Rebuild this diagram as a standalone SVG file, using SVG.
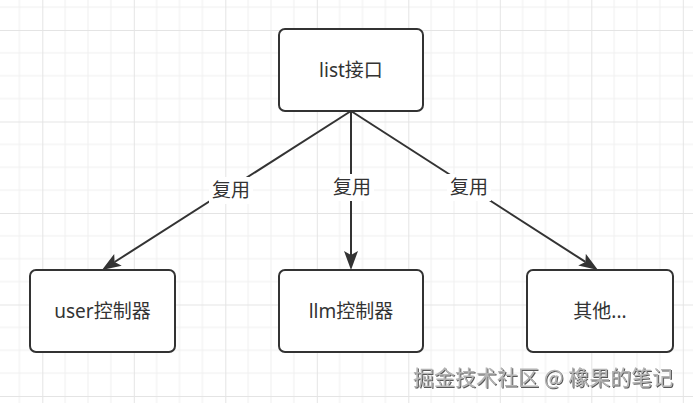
<svg xmlns="http://www.w3.org/2000/svg" width="693" height="403" viewBox="0 0 693 403">
  <defs>
    <pattern id="grid" patternUnits="userSpaceOnUse" x="42.3" y="30" width="91.5" height="91.5">
      <path d="M22.875,0V91.5M45.75,0V91.5M68.625,0V91.5M0,22.875H91.5M0,45.75H91.5M0,68.625H91.5" stroke="#f0f0f0" stroke-width="1" fill="none"/>
      <path d="M0.5,0V91.5M0,0.5H91.5" stroke="#e4e4e4" stroke-width="1" fill="none"/>
    </pattern>
    <marker id="arrow" markerUnits="userSpaceOnUse" markerWidth="22" markerHeight="15" refX="4" refY="7" orient="auto">
      <path d="M0,0 L19,7 L0,14 L4,7 Z" fill="#333333"/>
    </marker>
    <filter id="shadow" x="-5%" y="-20%" width="110%" height="140%">
      <feDropShadow dx="1" dy="1" stdDeviation="0.6" flood-color="#444444" flood-opacity="0.9"/>
    </filter>
  </defs>
  <style>
    .node rect { fill: #ffffff; stroke: #333333; stroke-width: 2; }
    .node text { font-family: "Noto Sans", "Noto Sans CJK SC", sans-serif; font-size: 19px; fill: #333333; text-anchor: middle; dominant-baseline: central; }
    .edge { stroke: #333333; stroke-width: 2; fill: none; marker-end: url(#arrow); }
    .label rect { fill: #ffffff; }
    .label text { font-family: "Noto Sans", "Noto Sans CJK SC", sans-serif; font-size: 19px; fill: #333333; text-anchor: middle; dominant-baseline: central; }
    .wm { font-family: "Noto Sans CJK SC", sans-serif; font-size: 21px; fill: #b4b4b4; filter: url(#shadow); }
  </style>
  <rect width="693" height="403" fill="#ffffff"/>
  <rect width="693" height="403" fill="url(#grid)"/>

  <g id="connectors">
    <line class="edge" x1="351" y1="111" x2="114.6" y2="262"/>
    <line class="edge" x1="351" y1="111" x2="351" y2="255"/>
    <line class="edge" x1="351" y1="111" x2="585.4" y2="261.9"/>
    <g class="label">
      <rect x="209" y="177" width="44" height="27"/>
      <text x="231" y="190">复用</text>
    </g>
    <g class="label">
      <rect x="330" y="174" width="44" height="27"/>
      <text x="352" y="187">复用</text>
    </g>
    <g class="label">
      <rect x="447" y="174" width="44" height="27"/>
      <text x="469" y="187">复用</text>
    </g>
  </g>

  <g id="node-list" class="node">
    <rect x="279" y="29" width="144" height="82" rx="6"/>
    <text x="351" y="70">list接口</text>
  </g>
  <g id="node-user" class="node">
    <rect x="30" y="270" width="145" height="82" rx="6"/>
    <text x="102.5" y="311">user控制器</text>
  </g>
  <g id="node-llm" class="node">
    <rect x="279" y="270" width="144" height="82" rx="6"/>
    <text x="351" y="311">llm控制器</text>
  </g>
  <g id="node-other" class="node">
    <rect x="527" y="270" width="146" height="82" rx="6"/>
    <text x="600" y="311">其他...</text>
  </g>

  <text class="wm" x="413" y="385">掘金技术社区 @ 橡果的笔记</text>
</svg>
